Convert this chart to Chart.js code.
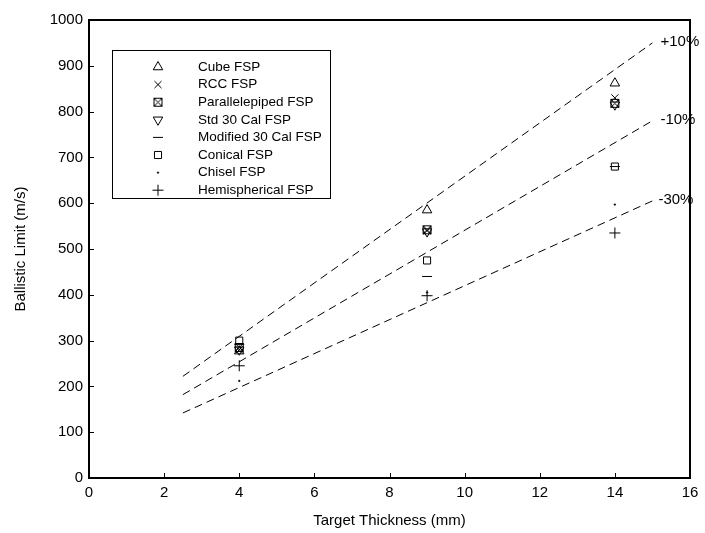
<!DOCTYPE html>
<html lang="en">
<head>
    <meta charset="UTF-8">
    <title>Ballistic Limit vs Target Thickness</title>
    <script src="https://cdn.jsdelivr.net/npm/chart.js"></script>
    <style>
        body { margin: 0; padding: 0; background: #fff; }
        #wrap { width: 705px; height: 533px; }
    </style>
</head>
<body>
    <div id="wrap"><canvas id="chart" width="705" height="533"></canvas></div>
    <script>
        // Target thickness (mm)
        const thickness = [4, 9, 14];

        // Ballistic limit (m/s) per fragment-simulating projectile
        const cubeFSP = [277, 585, 862];
        const rccFSP = [280, 540, 830];
        const parallelFSP = [285, 542, 818];
        const std30FSP = [280, 538, 815];
        const mod30FSP = [292, 440, 680];
        const conicalFSP = [300, 475, 680];
        const chiselFSP = [212, 405, 597];
        const hemiFSP = [245, 398, 535];

        // reference band lines
        const refX = [2.5, 15];
        const plus10 = [222, 950];
        const minus10 = [182, 780];
        const minus30 = [142, 605];
        const refLabels = ['+10%', '-10%', '-30%'];

        const xTicks = [0, 2, 4, 6, 8, 10, 12, 14, 16];
        const yTicks = [0, 100, 200, 300, 400, 500, 600, 700, 800, 900, 1000];

        const FONT = 'Liberation Sans, Arial, sans-serif';

        // boxed X marker for parallelepiped
        function boxX() {
            const c = document.createElement('canvas');
            c.width = 11; c.height = 11;
            const g = c.getContext('2d');
            g.strokeStyle = '#000';
            g.lineWidth = 1;
            g.strokeRect(1.5, 1.5, 8, 8);
            g.beginPath();
            g.moveTo(1.5, 1.5); g.lineTo(9.5, 9.5);
            g.moveTo(9.5, 1.5); g.lineTo(1.5, 9.5);
            g.stroke();
            return c;
        }

        function pts(ys) {
            return thickness.map((x, i) => ({ x: x, y: ys[i] }));
        }

        const series = [
            { label: 'Cube FSP', data: cubeFSP, style: 'triangle', r: 5.5, rot: 0 },
            { label: 'RCC FSP', data: rccFSP, style: 'crossRot', r: 5, rot: 0 },
            { label: 'Parallelepiped FSP', data: parallelFSP, style: boxX(), r: 5, rot: 0 },
            { label: 'Std 30 Cal FSP', data: std30FSP, style: 'triangle', r: 5.5, rot: 180 },
            { label: 'Modified 30 Cal FSP', data: mod30FSP, style: 'line', r: 5, rot: 0 },
            { label: 'Conical FSP', data: conicalFSP, style: 'rect', r: 5, rot: 0 },
            { label: 'Chisel FSP', data: chiselFSP, style: 'circle', r: 0.7, rot: 0 },
            { label: 'Hemispherical FSP', data: hemiFSP, style: 'cross', r: 5.5, rot: 0 }
        ];

        const datasets = series.map(s => ({
            type: 'scatter',
            label: s.label,
            data: pts(s.data),
            pointStyle: s.style,
            pointRadius: s.r,
            pointRotation: s.rot,
            borderColor: '#000',
            backgroundColor: s.style === 'circle' ? '#000' : 'rgba(0,0,0,0)',
            borderWidth: 1,
            showLine: false
        }));

        [plus10, minus10, minus30].forEach((ys, i) => {
            datasets.push({
                type: 'line',
                label: refLabels[i],
                data: refX.map((x, j) => ({ x: x, y: ys[j] })),
                borderColor: '#000',
                borderWidth: 1,
                borderDash: [8, 5],
                pointRadius: 0,
                fill: false
            });
        });

        // frame, inward ticks, legend box, line labels
        const decor = {
            id: 'decor',
            afterDatasetsDraw(chart) {
                const { ctx, chartArea: a, scales } = chart;
                const xs = scales.x, ys = scales.y;
                ctx.save();
                ctx.strokeStyle = '#000';
                ctx.lineWidth = 2;
                ctx.strokeRect(a.left, a.top, a.right - a.left, a.bottom - a.top);

                ctx.lineWidth = 1;
                ctx.beginPath();
                xTicks.forEach(v => {
                    const px = Math.round(xs.getPixelForValue(v)) + 0.5;
                    ctx.moveTo(px, a.bottom); ctx.lineTo(px, a.bottom - 5);
                });
                yTicks.forEach(v => {
                    const py = Math.round(ys.getPixelForValue(v)) + 0.5;
                    ctx.moveTo(a.left, py); ctx.lineTo(a.left + 5, py);
                });
                ctx.stroke();

                // reference line labels
                ctx.fillStyle = '#000';
                ctx.font = '15px ' + FONT;
                ctx.textBaseline = 'middle';
                ctx.textAlign = 'left';
                [plus10, minus10, minus30].forEach((ys2, i) => {
                    const px = xs.getPixelForValue(refX[1]) + (i === 2 ? 6 : 8);
                    const py = ys.getPixelForValue(ys2[1]) - 1;
                    ctx.fillText(refLabels[i], px, py);
                });

                // legend box
                const lx = 112, ly = 50, lw = 218, lh = 148;
                ctx.lineWidth = 1;
                ctx.strokeRect(lx + 0.5, ly + 0.5, lw, lh);
                ctx.font = '13.5px ' + FONT;
                series.forEach((s, i) => {
                    const cy = ly + 17 + i * 17.6;
                    ctx.strokeStyle = '#000';
                    ctx.fillStyle = s.style === 'circle' ? '#000' : 'rgba(0,0,0,0)';
                    Chart.helpers.drawPoint(ctx, {
                        pointStyle: s.style,
                        radius: s.r,
                        rotation: s.rot,
                        borderWidth: 1
                    }, lx + 46, cy);
                    ctx.fillStyle = '#000';
                    ctx.fillText(s.label, lx + 86, cy);
                });
                ctx.restore();
            }
        };

        new Chart(document.getElementById('chart'), {
            type: 'scatter',
            data: { datasets: datasets },
            plugins: [decor],
            options: {
                responsive: false,
                animation: false,
                layout: { padding: { left: 0, top: 20, right: 15, bottom: 0 } },
                plugins: { legend: { display: false }, tooltip: { enabled: false } },
                scales: {
                    x: {
                        type: 'linear',
                        min: 0, max: 16,
                        afterBuildTicks: s => { s.ticks = xTicks.map(v => ({ value: v })); },
                        afterFit: s => { s.height = 55; s.paddingRight = 0; },
                        grid: { display: false, drawTicks: false },
                        border: { display: false },
                        ticks: { color: '#000', font: { family: FONT, size: 15 }, padding: 6, maxRotation: 0, callback: v => String(v) },
                        title: { display: true, text: 'Target Thickness (mm)', color: '#000', font: { family: FONT, size: 15 }, padding: { top: 4, bottom: 3 } }
                    },
                    y: {
                        type: 'linear',
                        min: 0, max: 1000,
                        afterBuildTicks: s => { s.ticks = yTicks.map(v => ({ value: v })); },
                        afterFit: s => { s.width = 89; },
                        grid: { display: false, drawTicks: false },
                        border: { display: false },
                        ticks: { color: '#000', font: { family: FONT, size: 15 }, padding: 6, callback: v => String(v) },
                        title: { display: true, text: 'Ballistic Limit (m/s)', color: '#000', font: { family: FONT, size: 15 }, padding: { top: 12, bottom: 4 } }
                    }
                }
            }
        });
    </script>
</body>
</html>
